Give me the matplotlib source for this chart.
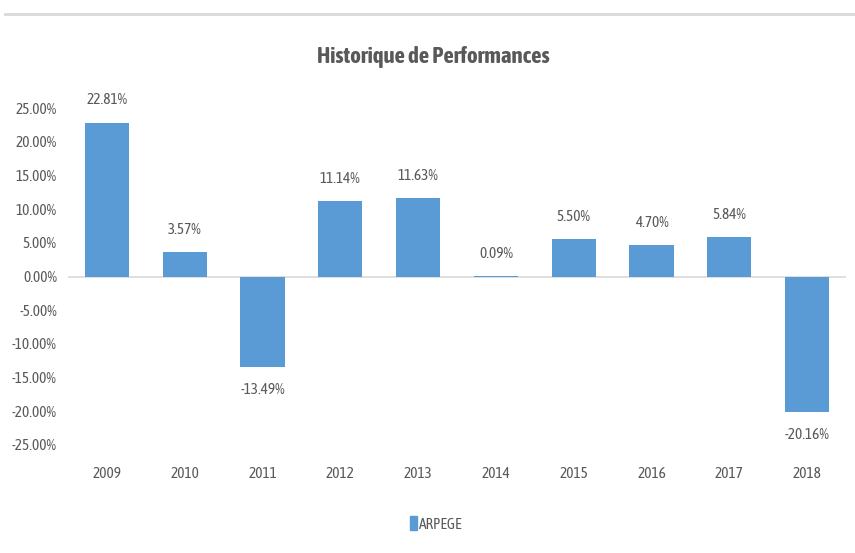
import matplotlib.pyplot as plt
import matplotlib.lines as mlines
import matplotlib.patches as mpatches
from matplotlib import font_manager
import numpy as np

years = ['2009', '2010', '2011', '2012', '2013', '2014', '2015', '2016', '2017', '2018']
perf = [22.81, 3.57, -13.49, 11.14, 11.63, 0.09, 5.50, 4.70, 5.84, -20.16]
yticks = [25, 20, 15, 10, 5, 0, -5, -10, -15, -20, -25]

bar_color = '#5B9BD5'
text_color = '#595959'

# look for a narrow font (the reference uses a condensed face), prefer one with a bold cut
fonts = font_manager.fontManager.ttflist
narrow = [f for f in fonts if 'Narrow' in f.name or 'Condensed' in f.name]
bold_names = set(f.name for f in narrow if f.weight in (600, 700, 'bold', 'semibold'))
names = [f.name for f in narrow]
names.sort(key=lambda n: (n not in bold_names, 'Liberation' not in n))
if names:
    plt.rcParams['font.family'] = [names[0], 'DejaVu Sans']
    fs, title_fs = 11, 16.5
else:
    plt.rcParams['font.family'] = ['Liberation Sans', 'DejaVu Sans']
    fs, title_fs = 9.5, 14


def main():
    fig = plt.figure(figsize=(8.55, 5.53), dpi=100)
    ax = fig.add_axes([68 / 855, 108 / 553, 778 / 855, 337 / 553])

    x = np.arange(len(years))
    ax.bar(x, perf, width=0.57, color=bar_color, zorder=2)
    ax.axhline(0, color='#d9d9d9', lw=1.2, zorder=1)

    for xi, v in zip(x, perf):
        if v >= 0:
            ax.annotate('%.2f%%' % v, (xi, v), xytext=(0, 11), textcoords='offset points',
                        ha='center', va='bottom', fontsize=fs, color=text_color)
        else:
            ax.annotate('%.2f%%' % v, (xi, v), xytext=(0, -11), textcoords='offset points',
                        ha='center', va='top', fontsize=fs, color=text_color)

    ax.set_xlim(-0.5, len(years) - 0.5)
    ax.set_ylim(-25, 25)
    ax.set_yticks(yticks)
    ax.set_yticklabels(['%.2f%%' % t for t in yticks])
    ax.set_xticks(x)
    ax.set_xticklabels(years)
    ax.tick_params(axis='both', length=0, labelsize=fs, labelcolor=text_color)
    ax.tick_params(axis='y', pad=8)
    ax.tick_params(axis='x', pad=16)
    for s in ax.spines.values():
        s.set_visible(False)

    fig.text(433 / 855, 1 - 57 / 553, 'Historique de Performances', ha='center', va='center',
             fontsize=title_fs, fontweight='bold', color=text_color)

    # top border line
    fig.add_artist(mlines.Line2D([5 / 855, 1], [1 - 14 / 553, 1 - 14 / 553],
                                 color='#d9d9d9', lw=2))

    patch = mpatches.Patch(color=bar_color, label='ARPEGE')
    fig.legend(handles=[patch], loc='center', bbox_to_anchor=(436 / 855, 1 - 524 / 553),
               frameon=False, fontsize=fs, labelcolor=text_color,
               handlelength=0.45, handleheight=1.0, handletextpad=0.15)

    plt.savefig('out.png', dpi=100)


if __name__ == "__main__":
    main()
